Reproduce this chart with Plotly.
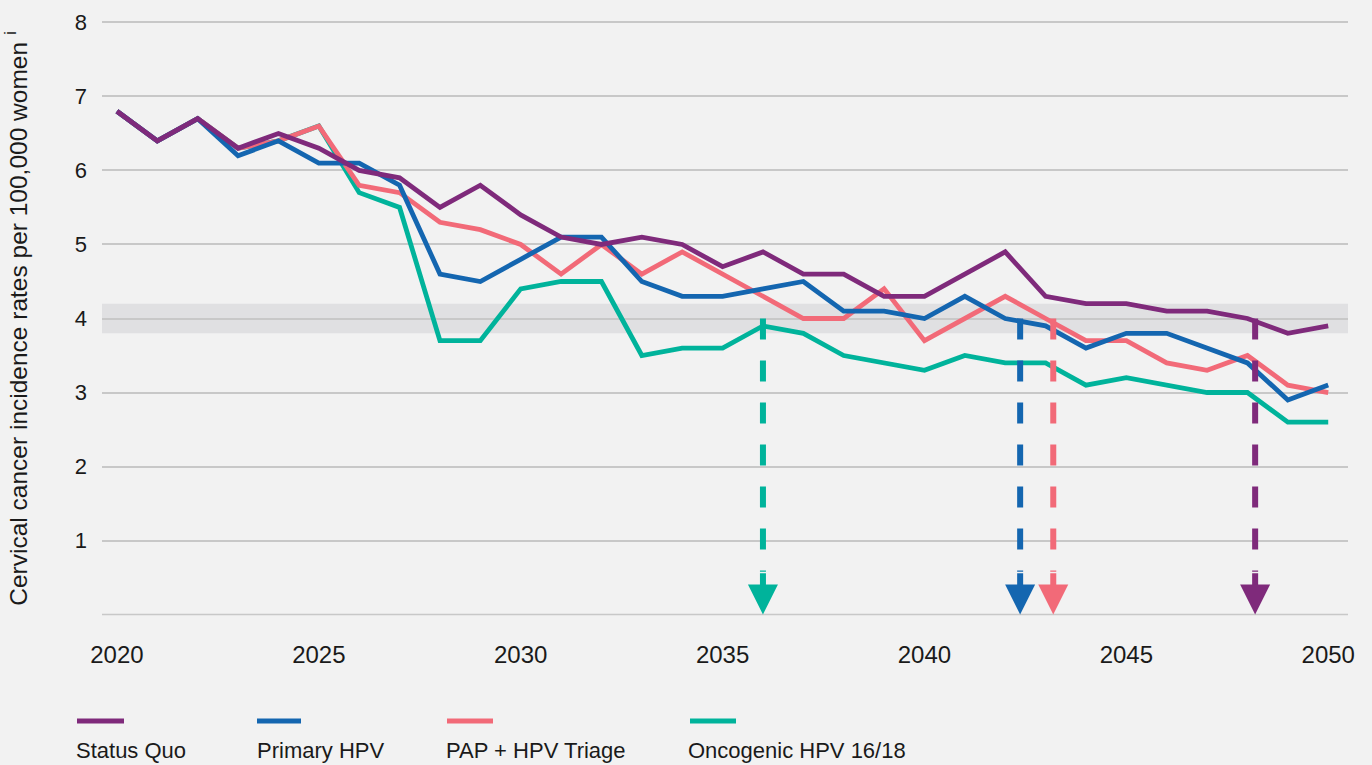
import plotly.graph_objects as go

years = list(range(2020, 2051))

status_quo = [6.8, 6.4, 6.7, 6.3, 6.5, 6.3, 6.0, 5.9, 5.5, 5.8, 5.4, 5.1, 5.0, 5.1, 5.0, 4.7,
              4.9, 4.6, 4.6, 4.3, 4.3, 4.6, 4.9, 4.3, 4.2, 4.2, 4.1, 4.1, 4.0, 3.8, 3.9]
primary_hpv = [6.8, 6.4, 6.7, 6.2, 6.4, 6.1, 6.1, 5.8, 4.6, 4.5, 4.8, 5.1, 5.1, 4.5, 4.3, 4.3,
               4.4, 4.5, 4.1, 4.1, 4.0, 4.3, 4.0, 3.9, 3.6, 3.8, 3.8, 3.6, 3.4, 2.9, 3.1]
pap_triage = [6.8, 6.4, 6.7, 6.3, 6.4, 6.6, 5.8, 5.7, 5.3, 5.2, 5.0, 4.6, 5.0, 4.6, 4.9, 4.6,
              4.3, 4.0, 4.0, 4.4, 3.7, 4.0, 4.3, 4.0, 3.7, 3.7, 3.4, 3.3, 3.5, 3.1, 3.0]
oncogenic = [6.8, 6.4, 6.7, 6.3, 6.4, 6.6, 5.7, 5.5, 3.7, 3.7, 4.4, 4.5, 4.5, 3.5, 3.6, 3.6,
             3.9, 3.8, 3.5, 3.4, 3.3, 3.5, 3.4, 3.4, 3.1, 3.2, 3.1, 3.0, 3.0, 2.6, 2.6]

series_names = ["Status Quo", "Primary HPV", "PAP + HPV Triage", "Oncogenic HPV 16/18"]
series_values = [status_quo, primary_hpv, pap_triage, oncogenic]
series_colors = ["#7f2a7b", "#1466b0", "#f26a78", "#00b39b"]

# year at which each strategy reaches the elimination threshold (4 per 100,000)
threshold = 4.0
band_low, band_high = 3.8, 4.2
crossing_years = [2048.19, 2042.37, 2043.19, 2036.0]

x_ticks = [2020, 2025, 2030, 2035, 2040, 2045, 2050]
y_ticks = [1, 2, 3, 4, 5, 6, 7, 8]
baseline = 0

FONT = "Liberation Sans, Arial, sans-serif"
TXT = "#1a1a1a"
BG = "#f2f2f2"
GRID = "#c8c8c8"

fig = go.Figure()

# threshold band and baseline
fig.add_hrect(y0=band_low, y1=band_high, fillcolor="#e0e0e2", line_width=0, layer="below")
fig.add_hline(y=baseline, line=dict(color=GRID, width=1.5), layer="below")

# draw order: teal, pink, blue, purple (purple on top)
for i in [3, 2, 1, 0]:
    fig.add_trace(go.Scatter(
        x=years, y=series_values[i], mode="lines", name=series_names[i],
        line=dict(color=series_colors[i], width=4.8), showlegend=False,
        hoverinfo="x+y+name"))

# dashed drop lines from threshold
dash_end = 0.58
for i in [3, 1, 2, 0]:
    xc = crossing_years[i]
    fig.add_trace(go.Scatter(
        x=[xc, xc], y=[threshold, dash_end], mode="lines",
        line=dict(color=series_colors[i], width=6, dash="21px,21px"),
        showlegend=False, hoverinfo="skip"))
    fig.add_annotation(
        x=xc, y=baseline, ax=xc, ay=dash_end, xref="x", yref="y", axref="x", ayref="y",
        text="", showarrow=True, arrowhead=2, arrowsize=1.0, arrowwidth=6,
        arrowcolor=series_colors[i])

# custom legend (line sample above label)
plot_l, plot_r, plot_t, plot_b = 102, 1348, 15, 622
def px_to_paper_x(px):
    return (px - plot_l) / (plot_r - plot_l)
def px_to_paper_y(py):
    return (plot_b - py) / (plot_b - plot_t)

legend_line_x = [(77, 124), (257, 301), (447, 493), (690, 736)]
legend_text_x = [74, 255, 444, 686]
for i in range(4):
    x0, x1 = legend_line_x[i]
    fig.add_shape(type="line", xref="paper", yref="paper",
                  x0=px_to_paper_x(x0), x1=px_to_paper_x(x1),
                  y0=px_to_paper_y(721), y1=px_to_paper_y(721),
                  line=dict(color=series_colors[i], width=5))
    fig.add_annotation(xref="paper", yref="paper", x=px_to_paper_x(legend_text_x[i]),
                       y=px_to_paper_y(750), text=series_names[i], showarrow=False,
                       xanchor="left", yanchor="middle",
                       font=dict(family=FONT, size=22, color=TXT))

fig.update_layout(
    width=1372, height=765,
    paper_bgcolor=BG, plot_bgcolor=BG,
    margin=dict(l=plot_l, r=1372 - plot_r, t=plot_t, b=765 - plot_b),
    font=dict(family=FONT, size=22, color=TXT),
    showlegend=False,
    xaxis=dict(range=[2019.63, 2050.49], tickvals=x_ticks, showgrid=False,
               zeroline=False, showline=False, ticks="", ticklabelstandoff=16,
               tickfont=dict(size=24, color=TXT)),
    yaxis=dict(range=[-0.1, 8.1], tickvals=y_ticks,
               showgrid=True, gridcolor=GRID, gridwidth=1.5, zeroline=False,
               showline=False, ticks="", ticklabelstandoff=14,
               tickfont=dict(size=22, color=TXT),
               title=dict(text="Cervical cancer incidence rates per 100,000 women <sup>i</sup>",
                          font=dict(size=24.5, color=TXT), standoff=40),
               automargin=False),
)

fig.write_html("out.html", config={"displayModeBar": False},
               post_script="document.body.style.margin='0';document.body.style.padding='0';")
